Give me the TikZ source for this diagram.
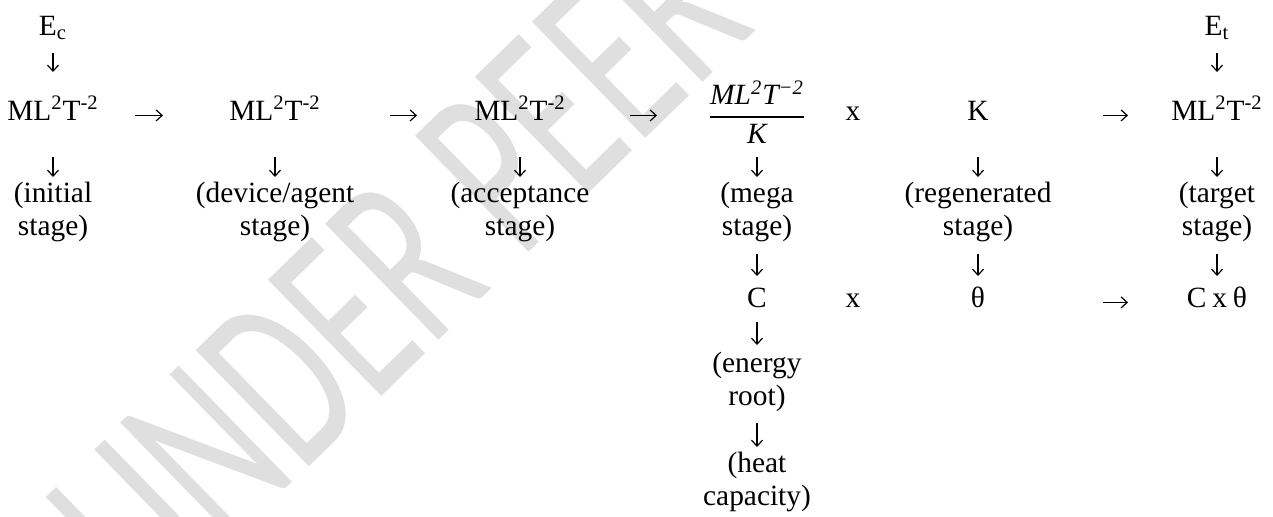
\documentclass[tikz,border=0pt]{standalone}
\usepackage{amsmath}
\usepackage{fontspec}
\setmainfont{Liberation Serif}
\newfontfamily\wmfont{Carlito}
\usepackage{graphicx}
\usetikzlibrary{arrows.meta}
\definecolor{wmgray}{RGB}{223,223,223}
\newcommand{\lbl}[2]{\begin{tabular}[t]{@{}c@{}}#1\\#2\end{tabular}}
\newcommand{\mlt}{ML\textsuperscript{2}T\textsuperscript{-2}}
\begin{document}
\begin{tikzpicture}[x=0.5pt,y=-0.5pt,
  every node/.style={inner sep=0pt, outer sep=0pt, font=\fontsize{14.7pt}{16.5pt}\selectfont},
  txt/.style={anchor=base},
  arr/.style={line width=0.6pt, -{Straight Barb[length=3pt,width=5.5pt]}},
]
\useasboundingbox (0,0) rectangle (1273,516);
\begin{scope}
\clip (0,0) rectangle (1273,516);
\node[anchor=base west, rotate=44.3, text=wmgray, font=\wmfont\fontsize{126.5pt}{130pt}\selectfont] (wm) at (151,621) {\scalebox{0.645}[1]{UNDER PEER REVIEW}};
\end{scope}

% top row
\node[txt] (ec) at (53,35) {E\textsubscript{c}};
\node[txt] (et) at (1217,35) {E\textsubscript{t}};
% main row
\node[txt] (m1) at (53,120) {\mlt};
\node[txt] (m2) at (275,120) {\mlt};
\node[txt] (m3) at (520,120) {\mlt};
\node[txt] (f4) at (757,120) {\raisebox{-2pt}{$\genfrac{}{}{0.9pt}{0}{\mbox{\itshape ML\textsuperscript{2}T\textsuperscript{−2}}}{\mbox{\itshape K}}$}};
\node[txt] (x1) at (853,120) {x};
\node[txt] (k5) at (978,120) {K};
\node[txt] (m6) at (1217,120) {\mlt};
% labels
\node[txt] (l1) at (53,202) {\lbl{(initial}{stage)}};
\node[txt] (l2) at (275,202) {\lbl{(device/agent}{stage)}};
\node[txt] (l3) at (520,202) {\lbl{(acceptance}{stage)}};
\node[txt] (l4) at (757,202) {\lbl{(mega}{stage)}};
\node[txt] (l5) at (978,202) {\lbl{(regenerated}{stage)}};
\node[txt] (l6) at (1217,202) {\lbl{(target}{stage)}};
% C row
\node[txt] (c4) at (757,307) {C};
\node[txt] (x2) at (853,307) {x};
\node[txt] (t5) at (978,307) {θ};
\node[txt] (r6) at (1217,307) {C\hspace{0.2em}x\hspace{0.2em}θ};
\node[txt] (en) at (757,372) {\lbl{(energy}{root)}};
\node[txt] (hc) at (757,472) {\lbl{(heat}{capacity)}};

% vertical connectors
\draw[arr, shorten <=9pt, shorten >=24pt] (ec.base) -- (m1.base);
\draw[arr, shorten <=9pt, shorten >=24pt] (et.base) -- (m6.base);
\foreach \a/\b in {m1/l1, m2/l2, m3/l3, f4/l4, k5/l5, m6/l6}
  \draw[arr, shorten <=18.5pt, shorten >=12.5pt] (\a.base) -- (\b.base);
\foreach \a/\b in {l4/c4, l5/t5, l6/r6}
  \draw[arr, shorten <=26pt, shorten >=15.5pt] (\a.base) -- (\b.base);
\draw[arr, shorten <=7.5pt, shorten >=13.5pt] (c4.base) -- (en.base);
\draw[arr, shorten <=25.5pt, shorten >=12.5pt] (en.base) -- (hc.base);

% horizontal connectors
\draw[arr, shorten <=41pt, shorten >=56pt] (m1.mid) -- (m2.mid);
\draw[arr, shorten <=57.5pt, shorten >=51.5pt] (m2.mid) -- (m3.mid);
\draw[arr, shorten <=55pt, shorten >=50pt] (m3.mid) -- (f4.mid);
\draw[arr, shorten <=62.5pt, shorten >=44.5pt] (k5.mid) -- (m6.mid);
\draw[arr, shorten <=62.5pt, shorten >=44.5pt] (t5.mid) -- (r6.mid);
\end{tikzpicture}
\end{document}
